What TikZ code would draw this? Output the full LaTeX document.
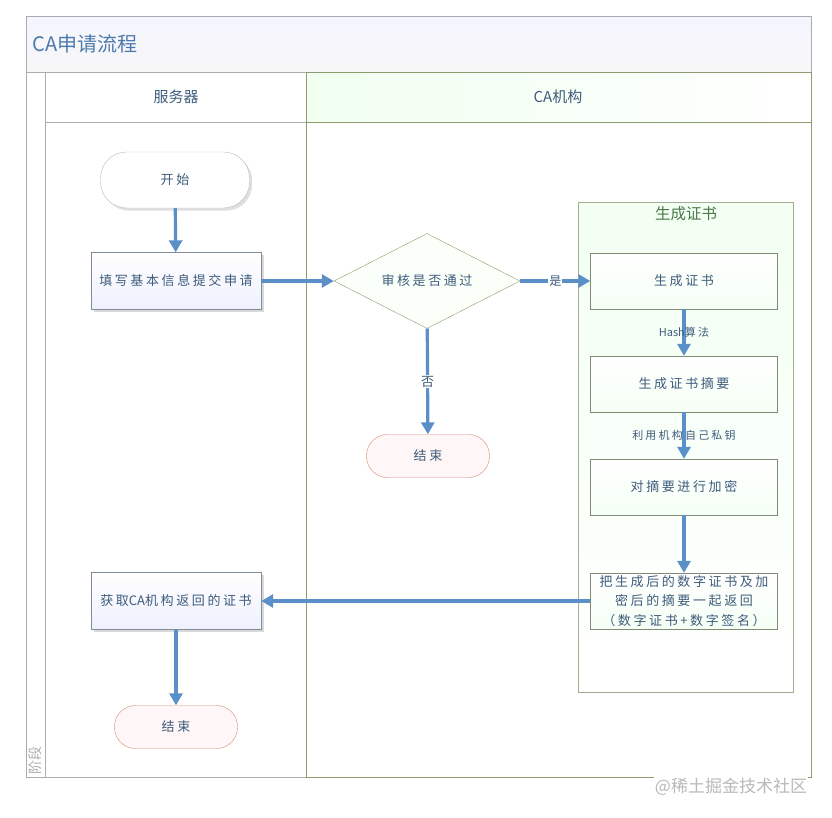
\documentclass[tikz,border=0pt]{standalone}
\usepackage{fontspec}
\setmainfont{Liberation Sans}
\newfontfamily\cjk{Noto Sans CJK SC}
\newfontfamily\cjkwide[LetterSpace=20]{Noto Sans CJK SC}
\usepackage{tikz}
\usepackage{xcolor}
\usetikzlibrary{calc,shapes.geometric,shadows,arrows.meta}

\definecolor{laneline}{HTML}{A9ADB2}
\definecolor{caline}{HTML}{8C9C6E}
\definecolor{flowblue}{HTML}{5A8FC8}
\definecolor{txtblue}{HTML}{3E5C7C}
\definecolor{boxline}{HTML}{7F8C99}
\definecolor{grpline}{HTML}{A2AD92}
\definecolor{endline}{HTML}{D08C70}

\begin{document}
\begin{tikzpicture}[x=1pt,y=-1pt,
    font=\cjkwide\fontsize{13}{15}\selectfont, text=txtblue,
    termnode/.style={draw=boxline!60, fill=white, rounded corners=26pt, minimum width=149pt, minimum height=56pt, drop shadow={opacity=.25}},
    endnode/.style={draw=endline, fill=red!3, rounded corners=21pt, minimum width=123pt, minimum height=43pt},
    procnode/.style={draw=boxline, top color=white, bottom color=blue!6, minimum width=170pt, minimum height=57pt, inner sep=1pt, drop shadow={opacity=.3}},
    stepnode/.style={draw=grpline!80!black, top color=white, bottom color=green!4, minimum width=187pt, minimum height=56pt, inner sep=1pt, align=center},
    decnode/.style={diamond, aspect=2, draw=caline, fill=green!2, minimum width=186pt, minimum height=95pt, inner sep=0pt},
    flow/.style={-{Triangle[length=12pt,width=13pt]}, draw=flowblue, line width=3.2pt}]
    \useasboundingbox (0,0) rectangle (832,817);

    % pool and lanes
    \draw[laneline, top color=blue!4, bottom color=gray!6] (26,16) rectangle (811,72);
    \node[anchor=west, text=flowblue!85!black, font=\cjk\fontsize{20}{22}\selectfont] (title) at (29,44) {CA申请流程};
    \draw[laneline] (26,72) rectangle (45,777);
    \node[rotate=90, text=laneline, font=\cjk\fontsize{14}{15}\selectfont] (phase) at (35,760) {阶段};
    \draw[laneline] (45,72) rectangle (306,777);
    \draw[laneline] (45,122) -- (306,122);
    \draw[caline, left color=green!6, right color=white] (306,72) rectangle (811,122);
    \draw[caline] (306,122) rectangle (811,777);
    \node[font=\cjk\fontsize{15}{16}\selectfont] (lane1) at (176,97) {服务器};
    \node[font=\cjk\fontsize{15}{16}\selectfont] (lane2) at (558,97) {CA机构};

    % group box
    \draw[grpline, top color=green!5, bottom color=white] (578,202) rectangle (793,692);
    \node[text=green!25!black!70, font=\cjk\fontsize{15.5}{17}\selectfont] (grp) at (686,214) {生成证书};

    \node[termnode] (start) at (175,180) {开始};
    \node[procnode] (fill) at (176,281) {填写基本信息提交申请};
    \node[decnode] (check) at (427,281) {审核是否通过};
    \node[endnode] (end1) at (428,456) {结束};
    \node[stepnode] (gen) at (684,281) {生成证书};
    \node[stepnode] (dig) at (684,384) {生成证书摘要};
    \node[stepnode] (enc) at (684,487) {对摘要进行加密};
    \node[stepnode, font=\cjkwide\fontsize{13}{19.5}\selectfont] (ret) at (684,601) {把生成后的数字证书及加\\密后的摘要一起返回\\（数字证书+数字签名）};
    \node[procnode] (get) at (176,601) {获取{\cjk CA}机构返回的证书};
    \node[endnode] (end2) at (176,727) {结束};

    \tikzset{every node/.style={fill=white, inner sep=1pt, font=\cjkwide\fontsize{11}{12}\selectfont}}

    \draw[flow] (start) -- (fill);
    \draw[flow] (fill) -- (check);
    \draw[flow] (check) -- node[font=\cjk\fontsize{12}{13}\selectfont] {是} (gen);
    \draw[flow] (check) -- node[font=\cjk\fontsize{13}{14}\selectfont] {否} (end1);
    \draw[flow] (gen) -- node[fill=none] {{\cjk Hash}算法} (dig);
    \draw[flow] (dig) -- node[fill=none] {利用机构自己私钥} (enc);
    \draw[flow] (enc) -- (ret);
    \draw[flow] (ret) -- (get);
    \draw[flow] (get) -- (end2);

    \node[text=gray!55, font=\cjk\fontsize{17}{18}\selectfont] (mark) at (731,787) {@稀土掘金技术社区};
\end{tikzpicture}
\end{document}
